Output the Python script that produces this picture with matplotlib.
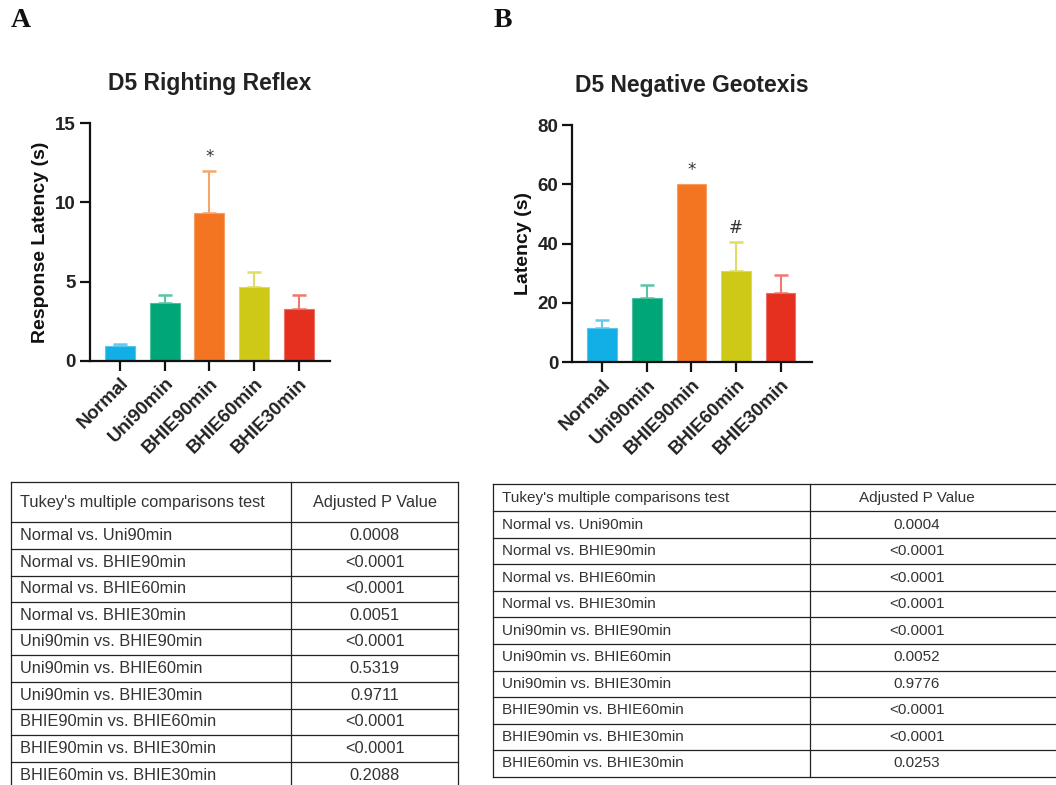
import matplotlib
matplotlib.use("Agg")
import matplotlib.pyplot as plt
import numpy as np
from matplotlib.colors import to_rgb

plt.rcParams['font.family'] = ['Liberation Sans', 'DejaVu Sans']

# ---------------- data ----------------
groups = ["Normal", "Uni90min", "BHIE90min", "BHIE60min", "BHIE30min"]
colors = ["#12AEE6", "#00A676", "#F37521", "#CDC916", "#E5301F"]

righting_mean = [0.93, 3.65, 9.33, 4.65, 3.27]
righting_err = [0.15, 0.49, 2.66, 0.95, 0.85]
righting_marks = ["", "", "*", "", ""]

geotaxis_mean = [11.45, 21.8, 60.0, 30.9, 23.4]
geotaxis_err = [2.9, 4.15, 0.0, 9.8, 5.9]
geotaxis_marks = ["", "", "*", "#", ""]

comparisons = [
    "Normal vs. Uni90min", "Normal vs. BHIE90min", "Normal vs. BHIE60min",
    "Normal vs. BHIE30min", "Uni90min vs. BHIE90min", "Uni90min vs. BHIE60min",
    "Uni90min vs. BHIE30min", "BHIE90min vs. BHIE60min",
    "BHIE90min vs. BHIE30min", "BHIE60min vs. BHIE30min",
]
righting_p = ["0.0008", "<0.0001", "<0.0001", "0.0051", "<0.0001",
              "0.5319", "0.9711", "<0.0001", "<0.0001", "0.2088"]
geotaxis_p = ["0.0004", "<0.0001", "<0.0001", "<0.0001", "<0.0001",
              "0.0052", "0.9776", "<0.0001", "<0.0001", "0.0253"]
table_header = ["Tukey's multiple comparisons test", "Adjusted P Value"]

W, H = 1056, 785
fig = plt.figure(figsize=(W / 100, H / 100), dpi=100)


def lighten(c, f=0.4):
    r, g, b = to_rgb(c)
    return (r + (1 - r) * f, g + (1 - g) * f, b + (1 - b) * f)


def px_axes(l, r, bottom, top):
    return fig.add_axes([l / W, 1 - bottom / H, (r - l) / W, (bottom - top) / H])


def bar_panel(ax, means, errs, marks, ymax, yticks, title, ylabel, ylab_x):
    x = np.arange(len(groups))
    ax.bar(x, means, width=0.67, color=colors,
           edgecolor=[lighten(c, 0.3) for c in colors], linewidth=0.8, zorder=2)
    for i in range(len(groups)):
        if errs[i] > 0:
            ax.errorbar(x[i], means[i], yerr=[[0], [errs[i]]], fmt='none',
                        ecolor=lighten(colors[i], 0.35), elinewidth=1.5,
                        capsize=4.8, capthick=1.8, zorder=1)
        if marks[i]:
            ax.annotate(marks[i], (x[i], means[i] + errs[i]), xytext=(0, 10),
                        textcoords='offset points', ha='center', va='center',
                        fontsize=12, color='#333333', family='DejaVu Sans')
    ax.set_xlim(-0.675, 4.7)
    ax.set_ylim(0, ymax)
    ax.set_yticks(yticks)
    ax.set_xticks(x)
    ax.set_xticklabels(groups, rotation=45, ha='right', rotation_mode='anchor')
    for s in ['top', 'right']:
        ax.spines[s].set_visible(False)
    for s in ['left', 'bottom']:
        ax.spines[s].set_linewidth(1.6)
        ax.spines[s].set_color('#111111')
    ax.tick_params(axis='both', width=1.6, length=7, color='#111111',
                   labelsize=13.5, labelcolor='#222222', pad=3)
    for lab in ax.get_xticklabels() + ax.get_yticklabels():
        lab.set_fontweight('bold')
    ax.set_title(title, fontsize=16.5, fontweight='bold', color='#222222', pad=24)
    ax.set_ylabel(ylabel, fontsize=14, fontweight='bold', color='#111111')
    ax.yaxis.set_label_coords(ylab_x, 0.5)


axA = px_axes(90, 330, 360.7, 123.3)
bar_panel(axA, righting_mean, righting_err, righting_marks, 15, [0, 5, 10, 15],
          "D5 Righting Reflex", "Response Latency (s)", -0.17)

axB = px_axes(572.3, 811.7, 362.3, 125)
bar_panel(axB, geotaxis_mean, geotaxis_err, geotaxis_marks, 80, [0, 20, 40, 60, 80],
          "D5 Negative Geotexis", "Latency (s)", -0.17)

# panel letters
fig.text(11 / W, 1 - 8 / H, "A", fontsize=20, fontweight='bold',
         family='Liberation Serif', va='top', ha='left', color='#111111')
fig.text(494 / W, 1 - 8 / H, "B", fontsize=20, fontweight='bold',
         family='Liberation Serif', va='top', ha='left', color='#111111')

# ---------------- tables ----------------
tax = fig.add_axes([0, 0, 1, 1])
tax.set_xlim(0, W)
tax.set_ylim(H, 0)
tax.axis('off')


def draw_table(left, mid, right, top, header_bottom, row_h, bottom, values,
               text_x, val_x, fs, draw_right=True):
    ys = [top, header_bottom] + [header_bottom + row_h * k for k in range(1, len(values) + 1)]
    for y in ys:
        if y <= H + 1:
            tax.plot([left, right], [y, y], color='#222222', lw=0.9)
    vlines = [left, mid] + ([right] if draw_right else [])
    for xv in vlines:
        tax.plot([xv, xv], [top, bottom], color='#222222', lw=0.9)
    hy = (top + header_bottom) / 2
    tax.text(text_x, hy, table_header[0], ha='left', va='center', fontsize=fs, color='#333333')
    tax.text(val_x, hy, table_header[1], ha='center', va='center', fontsize=fs, color='#333333')
    for k, (c, v) in enumerate(zip(comparisons, values)):
        cy = header_bottom + row_h * (k + 0.5)
        tax.text(text_x, cy, c, ha='left', va='center', fontsize=fs, color='#333333')
        tax.text(val_x, cy, v, ha='center', va='center', fontsize=fs, color='#333333')


draw_table(11, 291.3, 458.3, 482.3, 522.3, 26.6, 790, righting_p,
           20, 374.8, 11.8)
draw_table(493.3, 810, 1060, 484.3, 511.3, 26.54, 776.7, geotaxis_p,
           501.7, 916.5, 11.0, draw_right=False)

fig.savefig("out.png", dpi=100)
